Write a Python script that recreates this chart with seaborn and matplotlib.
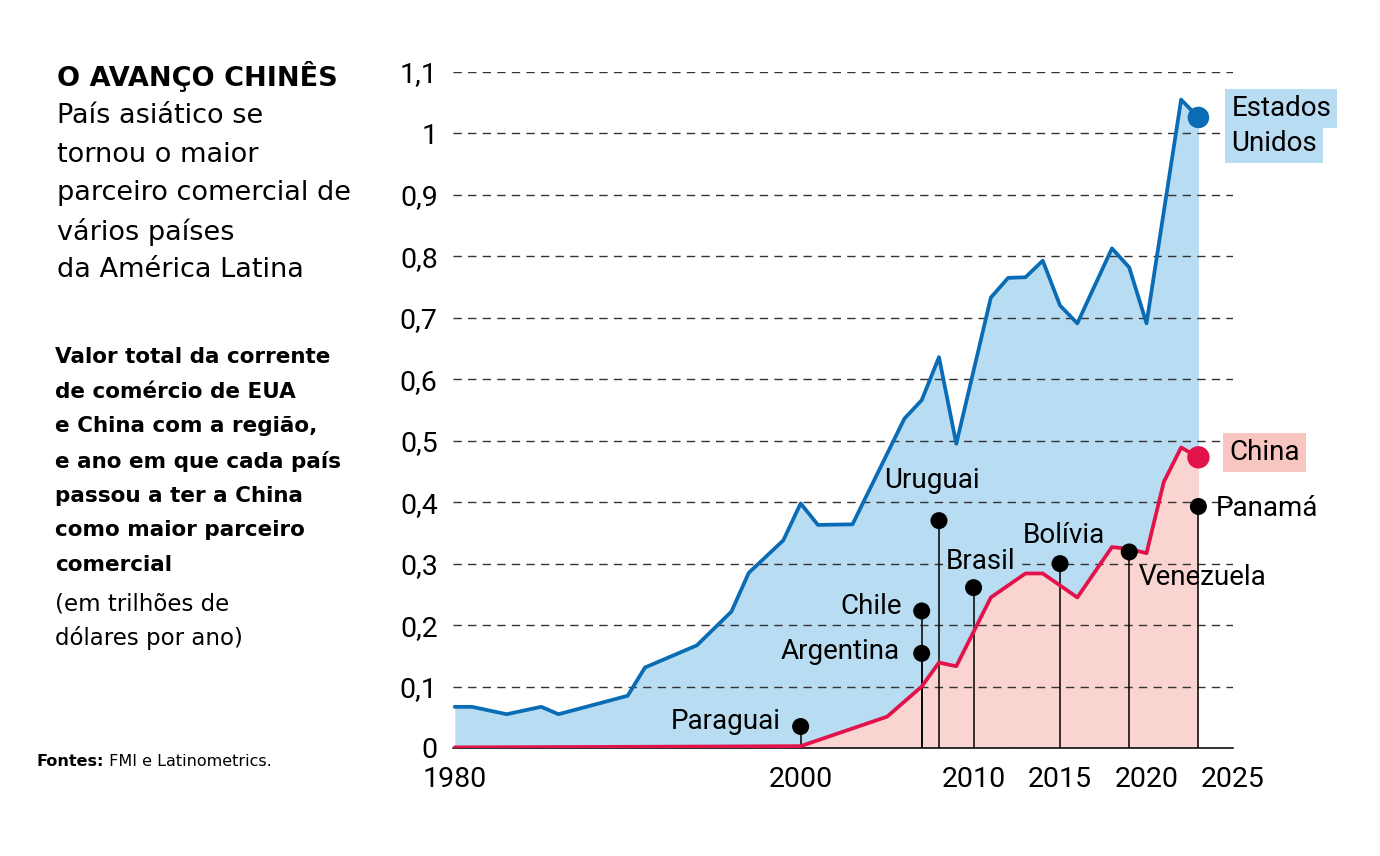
import numpy as np
import pandas as pd
import matplotlib
matplotlib.use('Agg')
import matplotlib.pyplot as plt
import seaborn as sns

# trade with Latin America, trillions of dollars per year
us_years = [1980, 1981, 1983, 1985, 1986, 1990, 1991, 1994, 1996, 1997, 1999, 2000,
            2001, 2003, 2006, 2007, 2008, 2009, 2011, 2012, 2013, 2014, 2015, 2016,
            2018, 2019, 2020, 2022, 2023]
us_values = [0.067, 0.067, 0.055, 0.067, 0.055, 0.085, 0.131, 0.167, 0.222, 0.285, 0.338, 0.398,
             0.363, 0.364, 0.536, 0.566, 0.636, 0.495, 0.733, 0.765, 0.766, 0.793, 0.720, 0.691,
             0.813, 0.782, 0.691, 1.055, 1.026]

cn_years = [1980, 1991, 2000, 2005, 2007, 2008, 2009, 2011, 2013, 2014, 2016, 2018,
            2019, 2020, 2021, 2022, 2023]
cn_values = [0.001, 0.002, 0.003, 0.051, 0.100, 0.139, 0.133, 0.245, 0.284, 0.284, 0.245, 0.327,
             0.324, 0.317, 0.433, 0.489, 0.473]

# year each country got China as its largest trading partner
countries = ['Paraguai', 'Argentina', 'Chile', 'Uruguai', 'Brasil', 'Bolívia', 'Venezuela', 'Panamá']
switch_years = [2000, 2007, 2007, 2008, 2010, 2015, 2019, 2023]
switch_values = [0.035, 0.154, 0.223, 0.370, 0.261, 0.300, 0.319, 0.393]

x_ticks = [1980, 2000, 2010, 2015, 2020, 2025]
y_ticks = [0, 0.1, 0.2, 0.3, 0.4, 0.5, 0.6, 0.7, 0.8, 0.9, 1.0, 1.1]
y_tick_labels = ['0', '0,1', '0,2', '0,3', '0,4', '0,5', '0,6', '0,7', '0,8', '0,9', '1', '1,1']

BLUE = '#0a6cb4'
BLUE_FILL = '#b8dcf2'
RED = '#e2124b'
RED_FILL = '#f9d4d0'
RED_BOX = '#f7c6c1'

sns.set_theme(style='white')
plt.rcParams['font.family'] = ['Roboto', 'DejaVu Sans']
plt.rcParams['text.color'] = 'black'

us = pd.DataFrame({'ano': us_years, 'valor': us_values})
cn = pd.DataFrame({'ano': cn_years, 'valor': cn_values})
marks = pd.DataFrame({'pais': countries, 'ano': switch_years, 'valor': switch_values})

W, H = 1380, 856
fig = plt.figure(figsize=(W / 100, H / 100), dpi=100)
ax = fig.add_axes([453 / W, 108 / H, 780 / W, 676 / H])

ax.fill_between(us.ano, us.valor, color=BLUE_FILL, lw=0, zorder=1)
ax.fill_between(cn.ano, cn.valor, color=RED_FILL, lw=0, zorder=1.1)

ax.vlines(marks.ano, 0, marks.valor, color='black', lw=1.1, zorder=2.2)

sns.lineplot(data=us, x='ano', y='valor', color=BLUE, lw=2.7, estimator=None, ax=ax, zorder=3)
sns.lineplot(data=cn, x='ano', y='valor', color=RED, lw=2.7, estimator=None, ax=ax, zorder=3.1)

sns.scatterplot(data=marks, x='ano', y='valor', color='black', s=150, edgecolor='none',
                ax=ax, zorder=4)
sns.scatterplot(data=us.tail(1), x='ano', y='valor', color=BLUE, s=240, edgecolor='none',
                ax=ax, zorder=4)
sns.scatterplot(data=cn.tail(1), x='ano', y='valor', color=RED, s=260, edgecolor='none',
                ax=ax, zorder=4)

# label offsets (pixels) from each dot
label_pos = {
    'Paraguai': (-20, 5, 'right'),
    'Argentina': (-22, 2, 'right'),
    'Chile': (-20, 4, 'right'),
    'Uruguai': (-7, 40, 'center'),
    'Brasil': (7, 26, 'center'),
    'Bolívia': (4, 28, 'center'),
    'Venezuela': (9, -26, 'left'),
    'Panamá': (17, -2, 'left'),
}
for _, r in marks.iterrows():
    dx, dy, ha = label_pos[r.pais]
    kw = dict(zorder=5)
    if r.pais == 'Brasil':
        kw = dict(zorder=2.1, bbox=dict(boxstyle='square,pad=0.05', fc=BLUE_FILL, ec='none'))
    ax.annotate(r.pais, (r.ano, r.valor), xytext=(dx, dy), textcoords='offset pixels',
                ha=ha, va='center', fontsize=20, color='black', **kw)

last_us = us.iloc[-1]
last_cn = cn.iloc[-1]
ax.annotate('Unidos', (last_us.ano, last_us.valor), xytext=(33, -26), textcoords='offset pixels',
            ha='left', va='center', fontsize=20, zorder=5,
            bbox=dict(boxstyle='square,pad=0.22', fc=BLUE_FILL, ec='none'))
ax.annotate('Estados', (last_us.ano, last_us.valor), xytext=(33, 9), textcoords='offset pixels',
            ha='left', va='center', fontsize=20, zorder=6,
            bbox=dict(boxstyle='square,pad=0.22', fc=BLUE_FILL, ec='none'))
ax.annotate('China', (last_cn.ano, last_cn.valor), xytext=(31, 5), textcoords='offset pixels',
            ha='left', va='center', fontsize=20, zorder=5,
            bbox=dict(boxstyle='square,pad=0.22', fc=RED_BOX, ec='none'))

ax.set_xlim(1979.9, 2025)
ax.set_ylim(0, 1.1)
ax.set_xticks(x_ticks)
ax.set_yticks(y_ticks, y_tick_labels)
ax.set_xlabel('')
ax.set_ylabel('')
ax.tick_params(axis='x', length=0, pad=13, labelsize=20.5, colors='black')
ax.tick_params(axis='y', length=0, pad=11, labelsize=20.5, colors='black')
ax.set_axisbelow('line')
ax.yaxis.grid(True, color='#333333', lw=1.0, linestyle=(0, (6, 4.5)))
ax.xaxis.grid(False)
for s in ['left', 'top', 'right']:
    ax.spines[s].set_visible(False)
ax.spines['bottom'].set_color('black')
ax.spines['bottom'].set_linewidth(1.1)
ax.set_facecolor('none')


def text_lines(lines, x, y0, step, **kw):
    for i, line in enumerate(lines):
        fig.text(x / W, 1 - (y0 + i * step) / H, line, va='center', **kw)


fig.text(57 / W, 1 - 77 / H, 'O AVANÇO CHINÊS', family='DejaVu Sans', weight='bold',
         size=19.5, va='center')
text_lines(['País asiático se', 'tornou o maior', 'parceiro comercial de',
            'vários países', 'da América Latina'],
           57, 116, 38.5, family='DejaVu Sans', size=19.5)
text_lines(['Valor total da corrente', 'de comércio de EUA', 'e China com a região,',
            'e ano em que cada país', 'passou a ter a China', 'como maior parceiro',
            'comercial'],
           55, 357, 34.7, family='DejaVu Sans', weight='bold', size=15.5)
text_lines(['(em trilhões de', 'dólares por ano)'],
           55, 604, 34, family='DejaVu Sans', size=16.5)

src = fig.text(37 / W, 1 - 762 / H, 'Fontes:', family='DejaVu Sans', weight='bold',
               size=11.5, va='center')
ax.annotate(' FMI e Latinometrics.', xy=(1, 0.5), xycoords=src, va='center', ha='left',
            family='DejaVu Sans', size=11.5, annotation_clip=False)

fig.savefig('out.png', dpi=100)
